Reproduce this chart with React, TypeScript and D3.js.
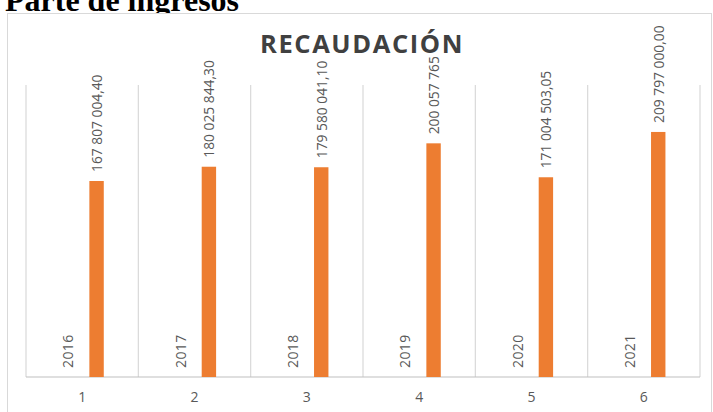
import React from "react";
import * as d3 from "d3";

const categorias = ["1", "2", "3", "4", "5", "6"];
const anios = [2016, 2017, 2018, 2019, 2020, 2021];
const recaudacion = [167807004.4, 180025844.3, 179580041.1, 200057765.0, 171004503.05, 209797000.0];
const series = ["Año", "Recaudación"];
const titulo = "RECAUDACIÓN";
const encabezado = "Parte de ingresos";

const W = 713;
const H = 412;
const plot = { left: 26, right: 700, top: 85, bottom: 377 };

const locale = d3.formatLocale({ decimal: ",", thousands: " ", grouping: [3], currency: ["", ""] });
const fmt = locale.format(",.2f");

export default function App() {
  const x = d3.scaleBand<string>().domain(categorias).range([plot.left, plot.right]).padding(0);
  const xs = d3
    .scaleBand<string>()
    .domain(series)
    .range([0, x.bandwidth()])
    .paddingInner(0.5)
    .paddingOuter(1.2);
  const y = d3.scaleLinear().domain([0, 250000000]).range([plot.bottom, plot.top]);
  const bw = xs.bandwidth();
  const font = "'Open Sans', sans-serif";
  const gap = 9;

  return (
    <svg
      width={W}
      height={H}
      style={{ position: "fixed", left: 0, top: 0, background: "#fff" }}
    >
      <text x={5} y={11} fontFamily="'Liberation Serif', 'Times New Roman', serif" fontWeight="bold" fontSize={32} fill="#000">
        {encabezado}
      </text>
      <rect x={7.5} y={13.5} width={704} height={420} fill="#fff" stroke="#d9d9d9" />
      {/* gridlines */}
      {[...categorias.map((c) => x(c)!), plot.right].map((gx, i) => (
        <line key={i} x1={gx} x2={gx} y1={plot.top} y2={plot.bottom} stroke="#d9d9d9" strokeWidth={1.2} />
      ))}
      <line x1={plot.left} x2={plot.right} y1={plot.bottom} y2={plot.bottom} stroke="#bfbfbf" strokeWidth={1.2} />
      {/* year series (values negligible) */}
      {anios.map((a, i) => {
        const cx = x(categorias[i])! + xs(series[0])! + bw / 2;
        const top = y(a);
        return (
          <g key={"a" + i}>
            <rect x={cx - bw / 2} y={top} width={bw} height={plot.bottom - top} fill="#5b9bd5" />
            <text
              transform={`translate(${cx},${top - gap}) rotate(-90)`}
              dominantBaseline="central"
              fontFamily={font}
              fontSize={14}
              letterSpacing={0.4}
              fill="#595959"
            >
              {a}
            </text>
          </g>
        );
      })}
      {/* value series */}
      {recaudacion.map((v, i) => {
        const bx = x(categorias[i])! + xs(series[1])!;
        const top = y(v);
        return (
          <g key={"v" + i}>
            <rect x={bx} y={top} width={bw} height={plot.bottom - top} fill="#ED7D31" />
            <text
              transform={`translate(${bx + bw / 2},${top - gap}) rotate(-90)`}
              dominantBaseline="central"
              fontFamily={font}
              fontSize={13.8}
              fill="#595959"
            >
              {fmt(v)}
            </text>
          </g>
        );
      })}
      {/* title */}
      <rect x={256} y={32} width={212} height={24} fill="#fff" />
      <text x={362} y={53} textAnchor="middle" fontFamily={font} fontWeight="bold" fontSize={25.5} fill="#404040" letterSpacing={1.6}>
        {titulo}
      </text>
      {/* category labels */}
      {categorias.map((c) => (
        <text
          key={"c" + c}
          x={x(c)! + x.bandwidth() / 2}
          y={402}
          textAnchor="middle"
          fontFamily={font}
          fontSize={14}
          fill="#595959"
        >
          {c}
        </text>
      ))}
    </svg>
  );
}
